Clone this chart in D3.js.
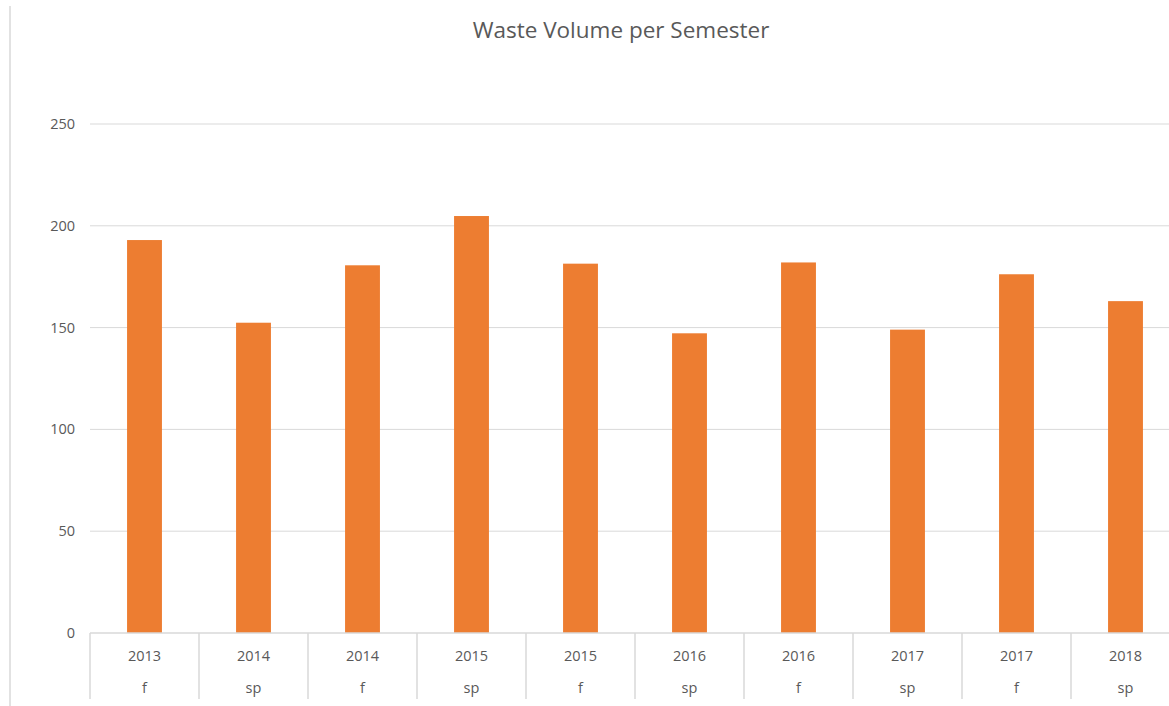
<!DOCTYPE html>
<html><head><meta charset="utf-8">
<script src="https://cdn.jsdelivr.net/npm/d3@7"></script>
<style>body{margin:0;background:#fff}svg{display:block}</style>
</head><body>
<script>
const years = ["2013","2014","2014","2015","2015","2016","2016","2017","2017","2018"];
const semesters = ["f","sp","f","sp","f","sp","f","sp","f","sp"];
const values = [193, 152.4, 180.6, 204.8, 181.4, 147.2, 182, 149, 176.2, 163];
const yTicks = [0,50,100,150,200,250];
const title = "Waste Volume per Semester";

const W=1169,H=706;
const font="'Open Sans', sans-serif";
const svg=d3.select("body").append("svg").attr("width",W).attr("height",H);
const idx=values.map((d,i)=>i);
const x=d3.scaleBand().domain(idx).range([90,1180]).paddingInner(0.68).paddingOuter(0.34);
const xb=d3.scaleBand().domain(idx).range([90,1180]);
const y=d3.scaleLinear().domain([0,250]).range([633,124]);

svg.append("line").attr("x1",10).attr("x2",10).attr("y1",6).attr("y2",H).attr("stroke","#d9d9d9").attr("stroke-width",1.5);

svg.append("g").selectAll("line").data(yTicks.filter(d=>d>0)).join("line")
  .attr("x1",90).attr("x2",W).attr("y1",d=>y(d)).attr("y2",d=>y(d))
  .attr("stroke","#d9d9d9").attr("stroke-width",1);

svg.append("g").selectAll("text").data(yTicks).join("text")
  .attr("x",75).attr("y",d=>y(d)).attr("dy","0.35em").attr("text-anchor","end")
  .attr("font-family",font).attr("font-size",14.5).attr("fill","#595959").text(d=>d);

svg.append("g").selectAll("rect").data(values).join("rect")
  .attr("x",(d,i)=>x(i)).attr("width",x.bandwidth())
  .attr("y",d=>y(d)).attr("height",d=>y(0)-y(d)).attr("fill","#ED7D31");

svg.append("line").attr("x1",90).attr("x2",W).attr("y1",y(0)).attr("y2",y(0)).attr("stroke","#d9d9d9").attr("stroke-width",1.5);

svg.append("g").selectAll("line").data(idx).join("line")
  .attr("x1",i=>xb(i)).attr("x2",i=>xb(i)).attr("y1",y(0)).attr("y2",699)
  .attr("stroke","#d9d9d9").attr("stroke-width",1.5);

const g=svg.append("g").attr("font-family",font).attr("font-size",14.5).attr("fill","#595959").attr("text-anchor","middle");
g.selectAll(".yr").data(years).join("text").attr("class","yr")
  .attr("x",(d,i)=>xb(i)+xb.bandwidth()/2).attr("y",661).text(d=>d);
g.selectAll(".sem").data(semesters).join("text").attr("class","sem")
  .attr("x",(d,i)=>xb(i)+xb.bandwidth()/2).attr("y",693).text(d=>d);

svg.append("text").attr("x",621).attr("y",38).attr("text-anchor","middle")
  .attr("font-family",font).attr("font-size",22.5).attr("fill","#595959").text(title);
</script>
</body></html>
